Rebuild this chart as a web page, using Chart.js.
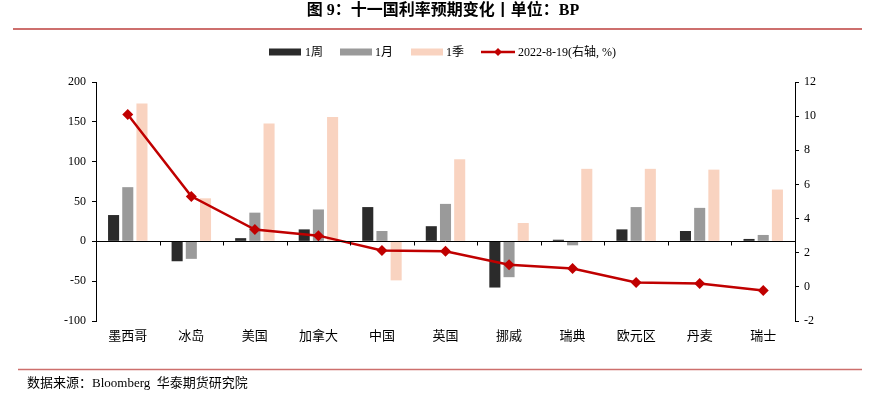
<!DOCTYPE html>
<html>
<head>
<meta charset="utf-8">
<script src="https://cdn.jsdelivr.net/npm/chart.js@4"></script>
<style>
  html, body { margin: 0; padding: 0; background: #fff; }
  #wrap { width: 875px; height: 399px; position: relative; }
</style>
</head>
<body>
<div id="wrap"><canvas id="grafico"></canvas></div>
<script>
const categorias = ['墨西哥', '冰岛', '美国', '加拿大', '中国', '英国', '挪威', '瑞典', '欧元区', '丹麦', '瑞士'];
const semana = [33, -25, 4, 15, 43, 19, -58, 2, 15, 13, 3];
const mes = [68, -22, 36, 40, 13, 47, -45, -5, 43, 42, 8];
const trimestre = [173, 54, 148, 156, -49, 103, 23, 91, 91, 90, 65];
const taxa = [10.1, 5.3, 3.36, 3.0, 2.13, 2.09, 1.29, 1.07, 0.25, 0.19, -0.22];
const ticksEsq = [200, 150, 100, 50, 0, -50, -100];
const ticksDir = [12, 10, 8, 6, 4, 2, 0, -2];

const fonte = "'Liberation Serif', 'Noto Sans CJK SC', serif";
const vermelho = '#c00000';

const decoracao = {
  id: 'decoracao',
  afterDraw(chart) {
    const c = chart.ctx;
    const x = chart.scales.x;
    const y = chart.scales.y;
    c.save();
    // titulo
    c.fillStyle = '#000';
    c.font = 'bold 16px ' + fonte;
    c.textAlign = 'center';
    c.textBaseline = 'middle';
    c.fillText('图 9：十一国利率预期变化丨单位：BP', 443, 11);
    // linhas vermelhas
    c.strokeStyle = '#cd6f6d';
    c.lineWidth = 2;
    c.beginPath(); c.moveTo(13, 29); c.lineTo(862, 29); c.stroke();
    c.lineWidth = 1.5;
    c.beginPath(); c.moveTo(18, 369.5); c.lineTo(862, 369.5); c.stroke();
    // rodape
    c.textAlign = 'left';
    c.font = '13px ' + fonte;
    c.fillStyle = '#000';
    c.fillText('数据来源：Bloomberg  华泰期货研究院', 27, 384);
    // legenda
    const ly = 52;
    const caixas = [
      [269, '#2b2b2b', '1周', 305],
      [340, '#9a9a9a', '1月', 375],
      [411, '#f9d3c0', '1季', 446]
    ];
    c.font = '12px ' + fonte;
    caixas.forEach(function (cx) {
      c.fillStyle = cx[1];
      c.fillRect(cx[0], ly - 3.5, 32, 7);
      c.fillStyle = '#000';
      c.fillText(cx[2], cx[3], ly + 1);
    });
    c.strokeStyle = vermelho;
    c.lineWidth = 2.5;
    c.beginPath(); c.moveTo(481, ly); c.lineTo(515, ly); c.stroke();
    c.fillStyle = vermelho;
    c.beginPath();
    c.moveTo(498 - 4, ly); c.lineTo(498, ly - 4); c.lineTo(498 + 4, ly); c.lineTo(498, ly + 4);
    c.closePath(); c.fill();
    c.fillStyle = '#000';
    c.fillText('2022-8-19(右轴, %)', 518, ly + 1);
    // eixo x no zero
    const y0 = Math.round(y.getPixelForValue(0)) + 0.5;
    c.strokeStyle = '#000';
    c.lineWidth = 1;
    c.beginPath(); c.moveTo(x.left, y0); c.lineTo(x.right, y0); c.stroke();
    const passo = (x.right - x.left) / categorias.length;
    for (let i = 1; i < categorias.length; i++) {
      const px = Math.round(x.left + passo * i) + 0.5;
      c.beginPath(); c.moveTo(px, y0); c.lineTo(px, y0 + 4); c.stroke();
    }
    c.restore();
  }
};

const ctx = document.getElementById('grafico');
new Chart(ctx, {
  data: {
    labels: categorias,
    datasets: [
      {
        type: 'line',
        label: '2022-8-19(右轴, %)',
        data: taxa,
        yAxisID: 'y1',
        borderColor: vermelho,
        backgroundColor: vermelho,
        borderWidth: 2.5,
        pointStyle: 'rectRot',
        pointRadius: 5.5,
        pointBackgroundColor: vermelho,
        pointBorderWidth: 0,
        tension: 0,
        order: 0
      },
      {
        type: 'bar',
        label: '1周',
        data: semana,
        backgroundColor: '#2b2b2b',
        yAxisID: 'y',
        order: 1
      },
      {
        type: 'bar',
        label: '1月',
        data: mes,
        backgroundColor: '#9a9a9a',
        yAxisID: 'y',
        order: 1
      },
      {
        type: 'bar',
        label: '1季',
        data: trimestre,
        backgroundColor: '#f9d3c0',
        yAxisID: 'y',
        order: 1
      }
    ]
  },
  options: {
    responsive: true,
    maintainAspectRatio: false,
    animation: false,
    datasets: {
      bar: { categoryPercentage: 0.67, barPercentage: 0.78 }
    },
    layout: { padding: { top: 82, left: 0, right: 0, bottom: 0 } },
    plugins: {
      legend: { display: false },
      tooltip: { enabled: false }
    },
    scales: {
      x: {
        offset: true,
        grid: { display: false, drawTicks: false },
        border: { display: false },
        ticks: { color: '#000', font: { family: fonte, size: 13 }, padding: 8, maxRotation: 0 },
        afterFit: function (s) { s.height = 78; }
      },
      y: {
        position: 'left',
        min: -100,
        max: 200,
        afterBuildTicks: function (s) { s.ticks = ticksEsq.map(function (v) { return { value: v }; }); },
        grid: { drawOnChartArea: false, drawTicks: true, tickLength: 4, color: '#000' },
        border: { display: true, color: '#000', width: 1 },
        ticks: { color: '#000', font: { family: fonte, size: 12 }, padding: 6 },
        afterFit: function (s) { s.width = 96; }
      },
      y1: {
        position: 'right',
        min: -2,
        max: 12,
        afterBuildTicks: function (s) { s.ticks = ticksDir.map(function (v) { return { value: v }; }); },
        grid: { drawOnChartArea: false, drawTicks: true, tickLength: 4, color: '#000' },
        border: { display: true, color: '#000', width: 1 },
        ticks: { color: '#000', font: { family: fonte, size: 12 }, padding: 5 },
        afterFit: function (s) { s.width = 80; }
      }
    }
  },
  plugins: [decoracao]
});
</script>
</body>
</html>
